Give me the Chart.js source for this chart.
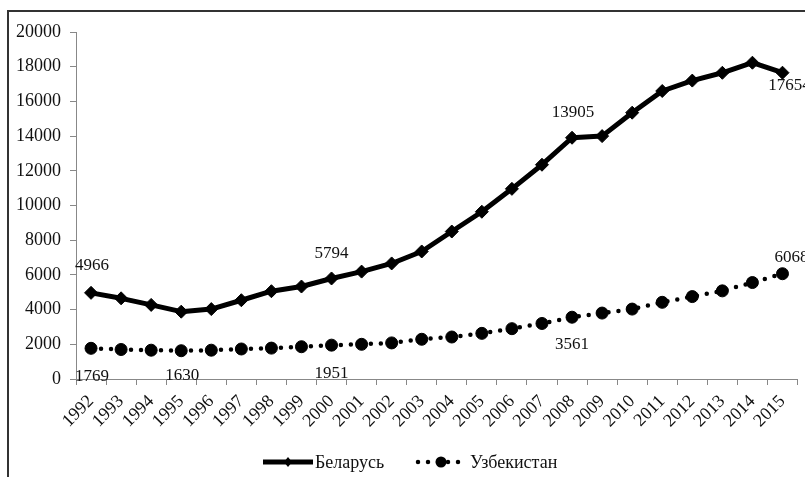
<!DOCTYPE html>
<html><head><meta charset="utf-8">
<script src="https://cdn.jsdelivr.net/npm/chart.js@4/dist/chart.umd.min.js"></script>
<style>html,body{margin:0;padding:0;background:#fff}#wrap{width:805px;height:477px;position:relative}</style>
</head><body><div id="wrap"><canvas id="c" width="805" height="477"></canvas></div>
<script>
const years = ['1992','1993','1994','1995','1996','1997','1998','1999','2000','2001','2002','2003','2004','2005','2006','2007','2008','2009','2010','2011','2012','2013','2014','2015'];
const belarus = [4966,4650,4270,3880,4030,4540,5060,5330,5794,6190,6660,7350,8500,9640,10960,12350,13905,14000,15350,16600,17200,17650,18230,17654];
const uzbekistan = [1769,1700,1660,1630,1660,1730,1780,1860,1951,2000,2080,2290,2420,2630,2900,3200,3561,3800,4030,4420,4750,5080,5560,6068];
const yTickValues = [0,2000,4000,6000,8000,10000,12000,14000,16000,18000,20000];
const seriesNames = ['Беларусь','Узбекистан'];
const belarusLabelIdx = [0,8,16,23];
const uzbekLabelIdx = [0,3,8,16,23];

const FONT = 'Liberation Serif, Times New Roman, serif';
const AXIS = '#888888';

// offsets of value labels relative to their point (style only)
const labelOffsets = {
  0: {0:[1,-27], 8:[0,-25], 16:[1,-25], 23:[7,13]},
  1: {0:[1,28], 3:[1,25], 8:[0,28], 16:[0,27], 23:[9,-16]}
};

const framePlugin = {
  id:'frame',
  beforeDraw(chart){
    const ctx = chart.ctx;
    ctx.save();
    ctx.fillStyle='#fff'; ctx.fillRect(0,0,chart.width,chart.height);
    ctx.strokeStyle='#333'; ctx.lineWidth=2;
    ctx.beginPath(); ctx.moveTo(8,chart.height); ctx.lineTo(8,11); ctx.lineTo(chart.width,11); ctx.stroke();
    ctx.restore();
  }
};

const valueLabels = {
  id:'valueLabels',
  afterDatasetsDraw(chart){
    const ctx = chart.ctx;
    ctx.save();
    ctx.font = '17px ' + FONT;
    ctx.fillStyle = '#111';
    ctx.textAlign='center'; ctx.textBaseline='middle';
    [belarusLabelIdx, uzbekLabelIdx].forEach((idxs, di)=>{
      const meta = chart.getDatasetMeta(di);
      const data = chart.data.datasets[di].data;
      idxs.forEach(i=>{
        const p = meta.data[i];
        const off = labelOffsets[di][i] || [0,-20];
        ctx.fillText(String(data[i]), p.x+off[0], p.y+off[1]);
      });
    });
    ctx.restore();
  }
};

const customLegend = {
  id:'customLegend',
  afterDraw(chart){
    const ctx = chart.ctx;
    const y = 462;
    ctx.save();
    const d0 = chart.data.datasets[0];
    ctx.strokeStyle='#000'; ctx.fillStyle='#000'; ctx.lineWidth=d0.borderWidth; ctx.lineCap='butt';
    ctx.beginPath(); ctx.moveTo(263,y); ctx.lineTo(313,y); ctx.stroke();
    ctx.beginPath(); ctx.moveTo(288,y-5); ctx.lineTo(292,y); ctx.lineTo(288,y+5); ctx.lineTo(284,y); ctx.closePath(); ctx.fill();
    const d1 = chart.data.datasets[1];
    ctx.lineWidth=d1.borderWidth; ctx.lineCap='round'; ctx.setLineDash(d1.borderDash);
    ctx.beginPath(); ctx.moveTo(418,y); ctx.lineTo(466,y); ctx.stroke();
    ctx.setLineDash([]);
    ctx.beginPath(); ctx.arc(441,y,5.5,0,Math.PI*2); ctx.fill();
    ctx.font='18px '+FONT; ctx.textAlign='left'; ctx.textBaseline='middle';
    ctx.fillStyle='#111';
    ctx.fillText(d0.label,315,y+1);
    ctx.fillText(d1.label,470,y+1);
    ctx.restore();
  }
};

new Chart(document.getElementById('c'),{
  type:'line',
  data:{
    labels:years,
    datasets:[
      {label:seriesNames[0],data:belarus,borderColor:'#000',backgroundColor:'#000',borderWidth:5,
       pointStyle:'rectRot',pointRadius:6.5,pointBorderWidth:1,tension:0,borderJoinStyle:'round'},
      {label:seriesNames[1],data:uzbekistan,borderColor:'#000',backgroundColor:'#000',borderWidth:4.5,
       borderDash:[0,10],borderCapStyle:'round',pointStyle:'circle',pointRadius:6,pointBorderWidth:1,tension:0}
    ]
  },
  options:{
    responsive:false,animation:false,devicePixelRatio:1,
    layout:{padding:{left:0,top:32,right:7,bottom:0}},
    plugins:{legend:{display:false},tooltip:{enabled:false}},
    scales:{
      x:{type:'category',offset:true,
        grid:{display:true,drawOnChartArea:false,offset:true,tickLength:6,color:AXIS},
        border:{color:AXIS,width:1},
        ticks:{autoSkip:false,maxRotation:45,minRotation:45,padding:6,color:'#111',font:{family:FONT,size:18}},
        afterFit(s){s.height=98;}
      },
      y:{min:0,max:20000,
        afterBuildTicks(s){s.ticks=yTickValues.map(v=>({value:v}));},
        grid:{display:true,drawOnChartArea:false,tickLength:6,color:AXIS},
        border:{color:AXIS,width:1},
        ticks:{padding:9,color:'#111',font:{family:FONT,size:18},callback:(v)=>String(v)},
        afterFit(s){s.width=76;}
      }
    }
  },
  plugins:[framePlugin,valueLabels,customLegend]
});
</script></body></html>
